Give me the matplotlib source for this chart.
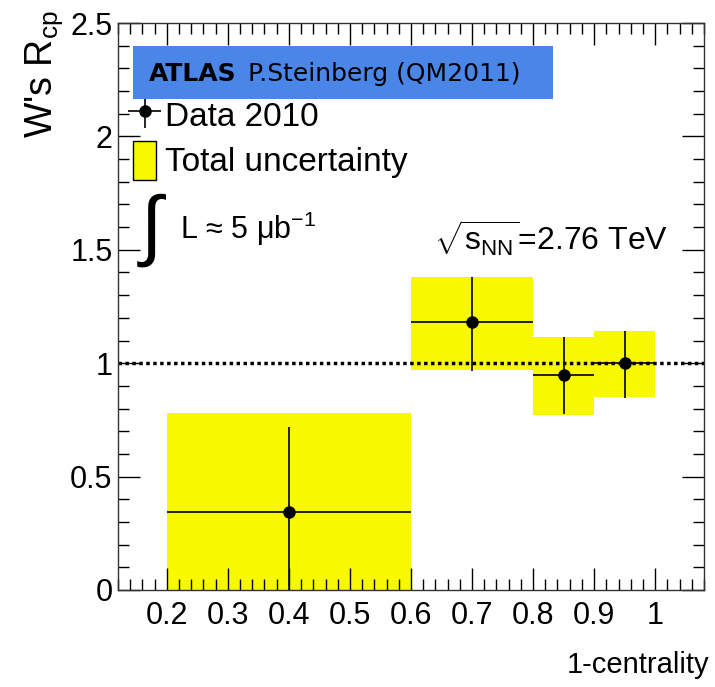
import numpy as np
import matplotlib
matplotlib.use('Agg')
import matplotlib.pyplot as plt
from matplotlib.patches import Patch
from matplotlib.ticker import MultipleLocator

plt.rcParams['font.family'] = ['Liberation Sans', 'DejaVu Sans']
plt.rcParams['mathtext.fontset'] = 'custom'
plt.rcParams['mathtext.rm'] = 'Liberation Sans'
plt.rcParams['mathtext.it'] = 'Liberation Sans'

# W's Rcp vs 1-centrality
x = [0.4, 0.7, 0.85, 0.95]
x_lo = [0.2, 0.6, 0.8, 0.9]
x_hi = [0.6, 0.8, 0.9, 1.0]
rcp = [0.345, 1.18, 0.95, 1.0]
stat_lo = [0.0, 0.965, 0.775, 0.845]
stat_hi = [0.72, 1.38, 1.115, 1.14]
tot_lo = [0.0, 0.97, 0.77, 0.85]
tot_hi = [0.78, 1.38, 1.115, 1.14]

x = np.array(x)
rcp = np.array(rcp)
xerr = [x - np.array(x_lo), np.array(x_hi) - x]
yerr = [rcp - np.array(stat_lo), np.array(stat_hi) - rcp]

fig = plt.figure(figsize=(7.15, 6.87), dpi=100)
ax = fig.add_axes([0.165, 0.1412, 0.8196, 0.8253])

yellow = '#f8f800'
ax.bar(x_lo, np.array(tot_hi) - np.array(tot_lo), bottom=tot_lo,
       width=np.array(x_hi) - np.array(x_lo), align='edge',
       color=yellow, linewidth=0, zorder=1)
ax.axhline(1.0, color='black', linestyle=(0, (1, 1)), linewidth=2.5, zorder=2)
eb = ax.errorbar(x, rcp, xerr=xerr, yerr=yerr, fmt='o', color='black',
                 markersize=8, elinewidth=1.2, capsize=0, zorder=3)

ax.set_xlim(0.12, 1.08)
ax.set_ylim(0, 2.5)
ax.xaxis.set_minor_locator(MultipleLocator(0.02))
ax.yaxis.set_minor_locator(MultipleLocator(0.1))
ax.set_xticks([0.2, 0.3, 0.4, 0.5, 0.6, 0.7, 0.8, 0.9, 1.0])
ax.set_xticklabels(['0.2', '0.3', '0.4', '0.5', '0.6', '0.7', '0.8', '0.9', '1'])
ax.set_yticks([0, 0.5, 1, 1.5, 2, 2.5])
ax.set_yticklabels(['0', '0.5', '1', '1.5', '2', '2.5'])
ax.tick_params(which='both', direction='in', top=True, right=True,
               labelsize=22, width=1)
ax.tick_params(which='major', length=16, pad=4)
ax.tick_params(which='minor', length=8)
ax.tick_params(axis='x', which='major', pad=8)
for s in ax.spines.values():
    s.set_linewidth(1)
    s.set_color('#333333')

fig.text(0.062, 0.985, "W's R$_{\\mathregular{cp}}$", rotation=90,
         ha='center', va='top', fontsize=27)
fig.text(0.992, 0.032, '1-centrality', ha='right', va='center', fontsize=21)

handles = [eb, Patch(facecolor=yellow, edgecolor='black', linewidth=1)]
leg = ax.legend(handles, ['Data 2010', 'Total uncertainty'],
                loc='upper left', bbox_to_anchor=(0.003, 0.895),
                frameon=False, fontsize=24, handlelength=0.7,
                handleheight=1.4, handletextpad=0.25, labelspacing=0.2,
                borderaxespad=0)

ax.text(0.058, 0.635, r'$\int$', transform=ax.transAxes, fontsize=56,
        ha='center', va='center')
ax.text(0.105, 0.637, 'L \u2248 5 \u03bcb$^{\\mathregular{-1}}$',
        transform=ax.transAxes, fontsize=22, ha='left', va='center')
ax.text(0.54, 0.62, r'$\sqrt{\mathregular{s_{NN}}}$=2.76 TeV',
        transform=ax.transAxes, fontsize=23, ha='left', va='center')

fig.text(0.208, 0.892, 'ATLAS', fontsize=18, fontweight='bold',
         ha='left', va='center', family='DejaVu Sans', zorder=5)
fig.text(0.347, 0.892, 'P.Steinberg (QM2011)', fontsize=18,
         ha='left', va='center', family='DejaVu Sans', zorder=5)
fig.patches.append(plt.Rectangle((0.186, 0.856), 0.588, 0.077,
                                 transform=fig.transFigure,
                                 facecolor='#4a86e8', edgecolor='none',
                                 zorder=4))

fig.savefig('out.png', dpi=100)
